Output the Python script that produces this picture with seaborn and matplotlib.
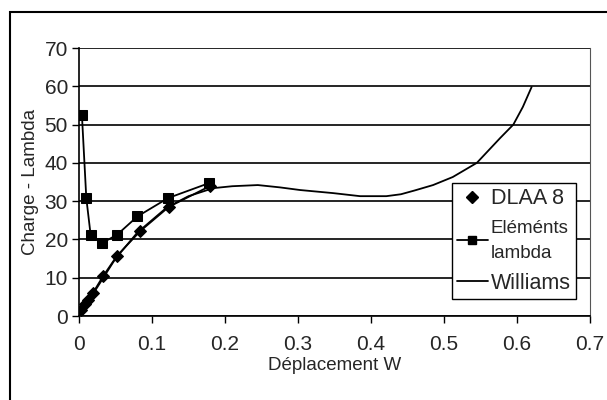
import numpy as np
import matplotlib
matplotlib.use("Agg")
import matplotlib.pyplot as plt
from matplotlib.lines import Line2D
from matplotlib.patches import Rectangle
import seaborn as sns

# values
dlaa_w = [0.003, 0.008, 0.012, 0.019, 0.033, 0.052, 0.084, 0.123, 0.179]
dlaa_charge = [1.6, 3.1, 4.2, 6.0, 10.4, 15.7, 22.2, 28.5, 33.9]

lambda_w = [0.004, 0.010, 0.016, 0.031, 0.052, 0.080, 0.122, 0.178]
lambda_charge = [52.5, 30.8, 21.1, 19.0, 21.2, 26.0, 30.8, 34.7]

williams_w = [0.0, 0.02, 0.05, 0.08, 0.12, 0.15, 0.184, 0.21, 0.245, 0.275,
              0.303, 0.348, 0.385, 0.421, 0.441, 0.46, 0.485, 0.512, 0.545,
              0.577, 0.595, 0.608, 0.62]
williams_charge = [0.0, 6.0, 15.0, 21.8, 28.3, 31.3, 33.4, 33.9, 34.2, 33.6,
                   32.9, 32.1, 31.3, 31.3, 31.8, 32.8, 34.2, 36.3, 40.0,
                   46.5, 50.0, 54.6, 59.8]

sns.set_theme(style="white")
plt.rcParams['font.family'] = ['Liberation Sans', 'DejaVu Sans']

fig = plt.figure(figsize=(6.07, 4.0), dpi=100)
fig.patches.append(Rectangle((10 / 607, -0.1), 1.2, 1 - 12 / 400 + 0.1,
                             transform=fig.transFigure, fill=False,
                             edgecolor='black', linewidth=1.5))
ax = fig.add_axes([79 / 607, 84 / 400, 511 / 607, 268 / 400])

sns.lineplot(x=williams_w, y=williams_charge, ax=ax, color='black',
             linewidth=1.3, sort=False, estimator=None)
sns.lineplot(x=dlaa_w, y=dlaa_charge, ax=ax, color='black', linewidth=1.3,
             marker='D', markersize=6, markeredgecolor='black',
             sort=False, estimator=None)
sns.lineplot(x=lambda_w, y=lambda_charge, ax=ax, color='black', linewidth=1.3,
             marker='s', markersize=6.5, markeredgecolor='black',
             sort=False, estimator=None)

ax.set_xlim(0, 0.7)
ax.set_ylim(0, 70)
ax.set_xticks(np.arange(0, 0.71, 0.1))
ax.set_xticklabels(['0', '0.1', '0.2', '0.3', '0.4', '0.5', '0.6', '0.7'])
ax.set_yticks(range(0, 71, 10))
ax.yaxis.grid(True, color='black', linewidth=1.2)
ax.xaxis.grid(False)
ax.set_axisbelow(True)
for side in ['left', 'bottom']:
    ax.spines[side].set_color('black')
    ax.spines[side].set_linewidth(1.2)
ax.spines['right'].set_color('#555555')
ax.spines['right'].set_linewidth(0.8)
ax.spines['top'].set_visible(False)
ax.tick_params(axis='both', direction='out', length=5, width=1, color='black',
               labelsize=15, bottom=True, left=True)
ax.tick_params(axis='x', pad=8.5)
ax.tick_params(axis='y', pad=3)
ax.set_xlabel('Déplacement W', fontsize=13.5, labelpad=2.5)
ax.set_ylabel('Charge - Lambda', fontsize=13.5, labelpad=4)

handles = [
    Line2D([], [], color='black', marker='D', markersize=6, linestyle='none'),
    Line2D([], [], color='black', marker='s', markersize=6, linewidth=1.3),
    Line2D([], [], color='black', linewidth=1.3),
]
leg = ax.legend(handles, ['DLAA 8', 'Eléménts\nlambda', 'Williams'],
                loc='upper left', bbox_to_anchor=(373 / 511, 1 - 135 / 268),
                frameon=True, fancybox=False, edgecolor='black',
                framealpha=1, fontsize=15.5, handlelength=1.4,
                handletextpad=0.15, borderpad=0.25, labelspacing=0.5,
                borderaxespad=0)
leg.get_frame().set_linewidth(1.0)
leg.get_texts()[1].set_fontsize(13.5)
leg.get_texts()[1].set_linespacing(1.6)

fig.savefig('out.png', dpi=100)
